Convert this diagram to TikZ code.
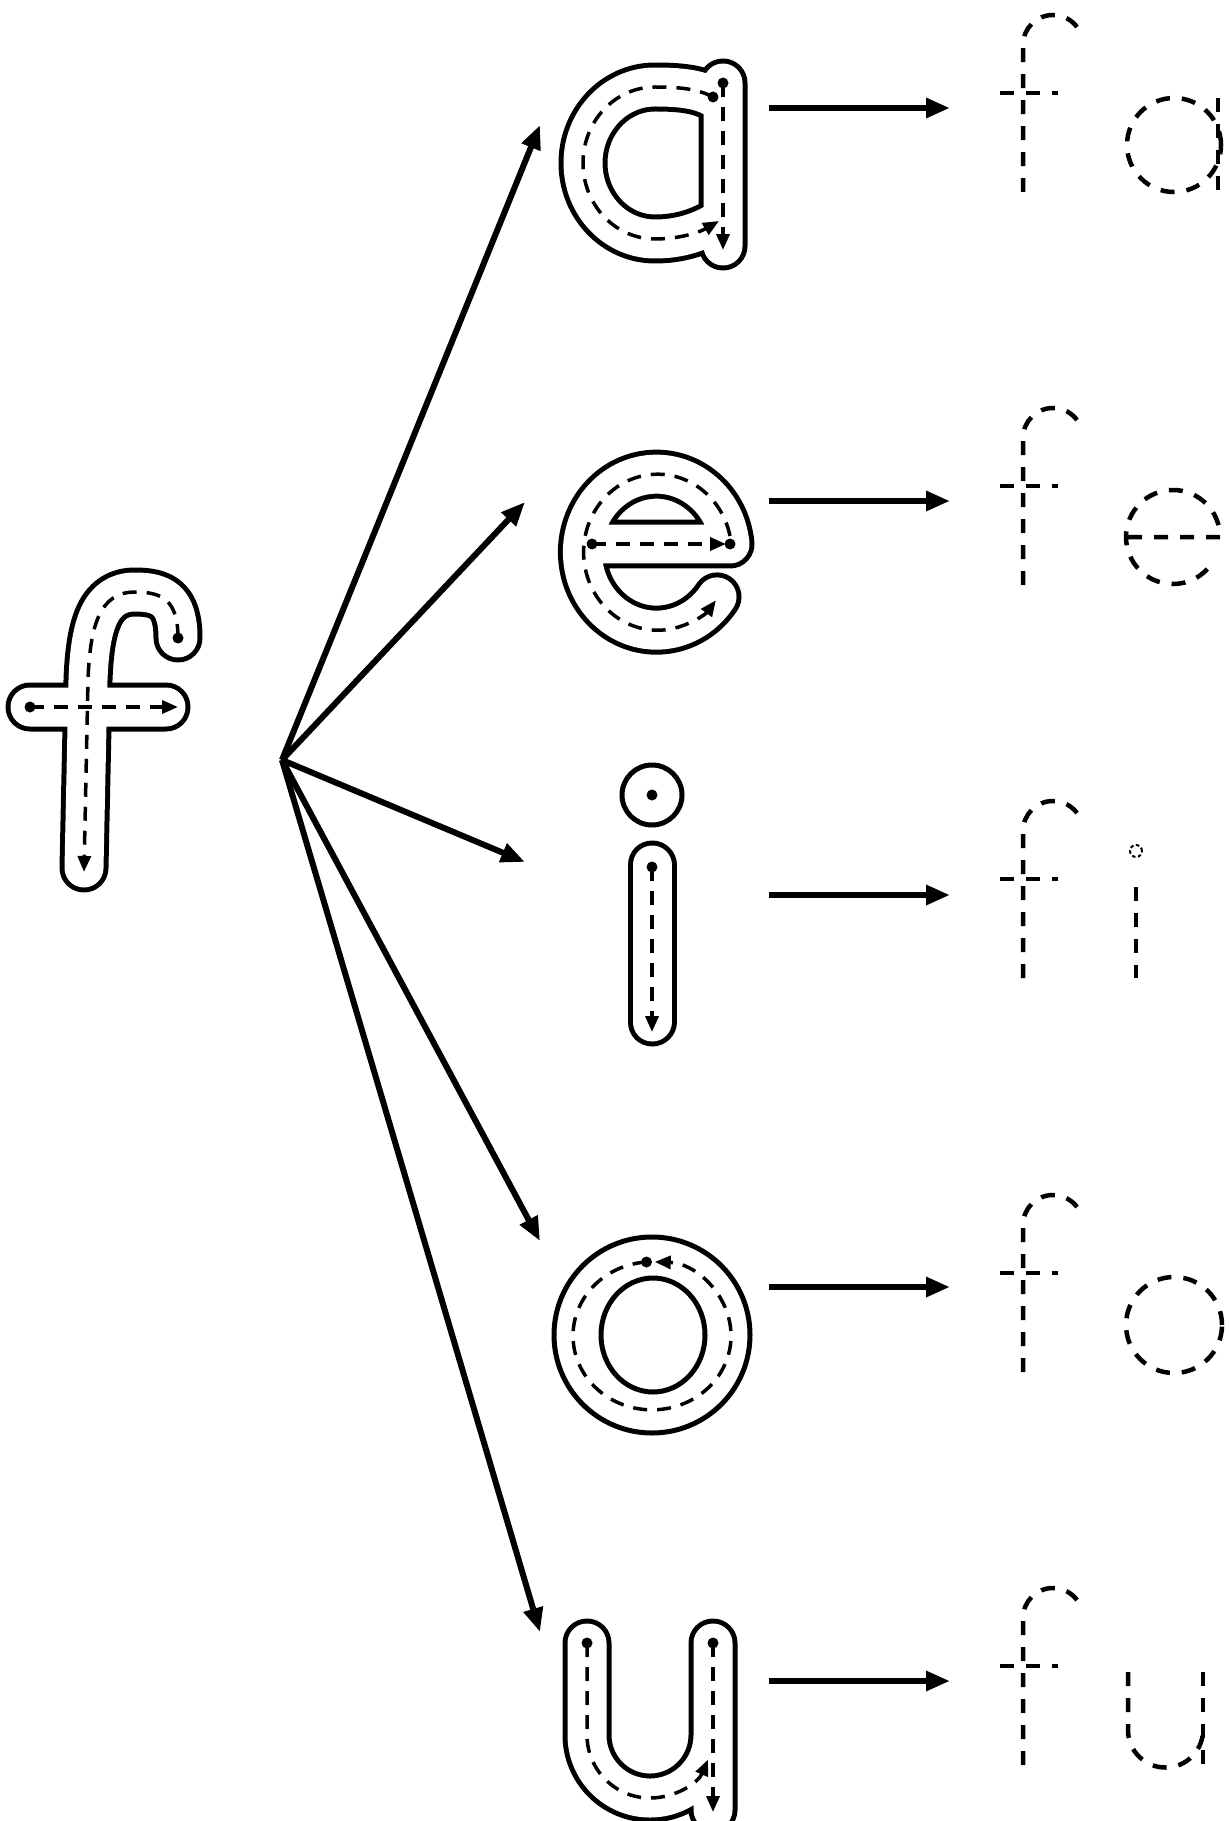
\documentclass[tikz,border=0pt]{standalone}
\usetikzlibrary{arrows.meta}

\begin{document}
\begin{tikzpicture}[x=0.02cm, y=0.02cm,
  link/.style={line width=0.12cm, -{Triangle[length=0.48cm, width=0.38cm]}},
  letter/.style={draw=white, line width=0.78cm, line cap=round, line join=round,
    preaction={draw=black, line width=0.98cm, line cap=round, line join=round}},
  guide/.style={line width=0.07cm, dash pattern=on 0.28cm off 0.2cm},
  guidearrow/.style={guide, -{Triangle[length=0.32cm, width=0.26cm]}},
  trace/.style={line width=0.09cm, dash pattern=on 0.28cm off 0.24cm},
  rim/.style={line width=0.1cm}]
  \useasboundingbox (0,0) rectangle (1228,-1821);

  % Branch points
  \coordinate (hub) at (282,-760);
  \coordinate (to-a) at (540,-125);
  \coordinate (to-e) at (525,-502);
  \coordinate (to-i) at (525,-862);
  \coordinate (to-o) at (540,-1241);
  \coordinate (to-u) at (540,-1632);
  \coordinate (a-end) at (769,-108);
  \coordinate (e-end) at (769,-501);
  \coordinate (i-end) at (769,-895);
  \coordinate (o-end) at (769,-1287);
  \coordinate (u-end) at (769,-1681);
  \coordinate (fa) at (950,-108);
  \coordinate (fe) at (950,-501);
  \coordinate (fi) at (950,-895);
  \coordinate (fo) at (950,-1287);
  \coordinate (fu) at (950,-1681);

  % Letter f
  \draw[letter] (178,-638) .. controls (178,-600) and (162,-592) .. (135,-592)
    .. controls (100,-592) and (90,-625) .. (88,-680) -- (84,-868)
    (30,-707) -- (166,-707);
  \draw[guidearrow] (178,-638) .. controls (178,-600) and (162,-592) .. (135,-592)
    .. controls (100,-592) and (90,-625) .. (88,-680) -- (84,-872);
  \draw[guidearrow] (30,-707) -- (178,-707);
  \fill (178,-638) circle[radius=5.5];
  \fill (30,-707) circle[radius=5.5];

  % Letter a
  \draw[letter] (713,-97) .. controls (698,-89) and (680,-87) .. (655,-87)
    arc[start angle=90, end angle=270, x radius=72, y radius=76]
    .. controls (680,-239) and (700,-232) .. (717,-222)
    (723,-83) -- (723,-246);
  \draw[guidearrow] (713,-97) .. controls (698,-89) and (680,-87) .. (655,-87)
    arc[start angle=90, end angle=270, x radius=72, y radius=76]
    .. controls (680,-239) and (700,-232) .. (719,-221);
  \draw[guidearrow] (723,-83) -- (723,-250);
  \fill (713,-97) circle[radius=5.5];
  \fill (723,-83) circle[radius=5.5];

  % Letter e
  \draw[letter] (592,-544) -- (730,-544)
    arc[start angle=6, end angle=325, x radius=74, y radius=78];
  \draw[guidearrow] (592,-544) -- (726,-544);
  \draw[guidearrow] (730,-536) arc[start angle=12, end angle=322, x radius=74, y radius=78];
  \fill (592,-544) circle[radius=5.5];
  \fill (730,-544) circle[radius=5.5];

  % Letter i
  \draw[rim] (652,-795) circle[radius=30];
  \fill (652,-795) circle[radius=5.5];
  \draw[letter] (652,-865) -- (652,-1022);
  \draw[guidearrow] (652,-867) -- (652,-1032);
  \fill (652,-867) circle[radius=5.5];

  % Letter o
  \draw[rim] (652,-1335) circle[radius=98];
  \draw[rim] (653,-1335) ellipse[x radius=52, y radius=57];
  \draw[guidearrow] (646.5,-1262) arc[start angle=94, end angle=448, x radius=79, y radius=74];
  \fill (646.5,-1262) circle[radius=5.5];

  % Letter u
  \draw[letter] (587,-1643) -- (587,-1735) arc[start angle=180, end angle=360, radius=63]
    (713,-1643) -- (713,-1810);
  \draw[guidearrow] (587,-1643) -- (587,-1735) arc[start angle=180, end angle=337, radius=63];
  \draw[guidearrow] (713,-1643) -- (713,-1812);
  \fill (587,-1643) circle[radius=5.5];
  \fill (713,-1643) circle[radius=5.5];

  % Arrows
  \draw[link] (hub) -- (to-a);
  \draw[link] (hub) -- (to-e);
  \draw[link] (hub) -- (to-i);
  \draw[link] (hub) -- (to-o);
  \draw[link] (hub) -- (to-u);
  \draw[link] (a-end) -- (fa);
  \draw[link] (e-end) -- (fe);
  \draw[link] (i-end) -- (fi);
  \draw[link] (o-end) -- (fo);
  \draw[link] (u-end) -- (fu);

  % Traced syllables
  \begin{scope}[shift={(0,0)}]
    \draw[trace] (1023,-192) -- (1023,-45) arc[start angle=180, end angle=35, radius=30];
    \draw[trace] (1000,-93) -- (1058,-93);
    \draw[trace] (1174,-145) circle[radius=47];
    \draw[trace] (1218,-98) -- (1218,-192);
  \end{scope}
  \begin{scope}[shift={(0,-393)}]
    \draw[trace] (1023,-192) -- (1023,-45) arc[start angle=180, end angle=35, radius=30];
    \draw[trace] (1000,-93) -- (1058,-93);
    \draw[trace] (1128,-144) -- (1220,-144) arc[start angle=0, end angle=325, radius=47];
  \end{scope}
  \begin{scope}[shift={(0,-786)}]
    \draw[trace] (1023,-192) -- (1023,-45) arc[start angle=180, end angle=35, radius=30];
    \draw[trace] (1000,-93) -- (1058,-93);
    \draw[line width=0.04cm, dash pattern=on 0.07cm off 0.05cm] (1136,-65) circle[radius=6];
    \draw[trace] (1136,-101) -- (1136,-192);
  \end{scope}
  \begin{scope}[shift={(0,-1180)}]
    \draw[trace] (1023,-192) -- (1023,-45) arc[start angle=180, end angle=35, radius=30];
    \draw[trace] (1000,-93) -- (1058,-93);
    \draw[trace] (1174,-145) circle[radius=48];
  \end{scope}
  \begin{scope}[shift={(0,-1573)}]
    \draw[trace] (1023,-192) -- (1023,-45) arc[start angle=180, end angle=35, radius=30];
    \draw[trace] (1000,-93) -- (1058,-93);
    \draw[trace] (1128,-99) -- (1128,-157) arc[start angle=180, end angle=360, radius=37.5];
    \draw[trace] (1203,-99) -- (1203,-192);
  \end{scope}
\end{tikzpicture}
\end{document}
